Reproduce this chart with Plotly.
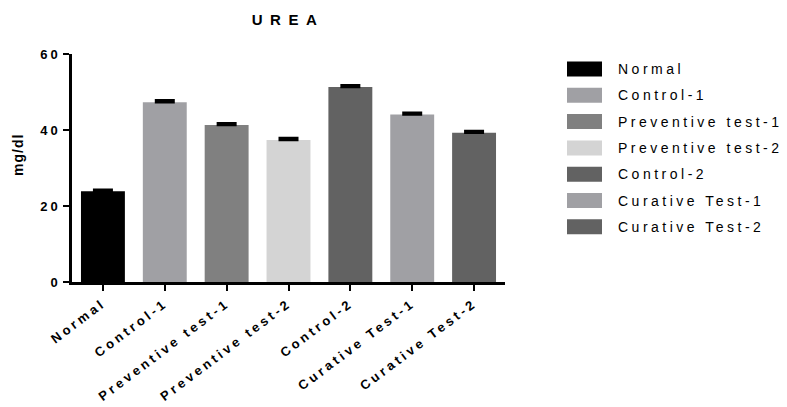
import plotly.graph_objects as go

categories = ["Normal", "Control-1", "Preventive test-1", "Preventive test-2",
              "Control-2", "Curative Test-1", "Curative Test-2"]
means = [23.9, 47.3, 41.3, 37.4, 51.3, 44.1, 39.3]
errors_up = [0.4, 0.5, 0.5, 0.5, 0.5, 0.45, 0.45]
errors_down = [0, 0, 0, 0, 0, 0, 0]
colors = ["#000000", "#A0A0A4", "#808080", "#D4D4D4", "#626262", "#A0A0A4", "#626262"]
y_ticks = [0, 20, 40, 60]
title_text = "UREA"
y_label = "mg/dl"

W, H = 787, 407
L, R, T, B = 72, 282, 54, 125
pw, ph = W - L - R, H - T - B


def px2x(px):
    return (px - L) / pw


def py2y(py):
    return (H - B - py) / ph


fig = go.Figure()
fig.add_trace(go.Bar(
    x=categories, y=means,
    marker=dict(color=colors, line=dict(width=0)),
    width=0.71,
    error_y=dict(type="data", array=errors_up, arrayminus=errors_down, symmetric=False,
                 visible=True, color="#000000", thickness=2.5, width=10),
    showlegend=False,
))

FONT = "Liberation Sans, Arial, sans-serif"

annotations = [dict(
    text='<b><span style="letter-spacing:1px">' + y_label + '</span></b>',
    x=px2x(18), y=py2y(155), xref="paper", yref="paper",
    textangle=-90, showarrow=False, xanchor="center", yanchor="middle",
    font=dict(family=FONT, size=14, color="#000000"),
)]
shapes = []
row0, step = 69, 26.3
for i, (cat, col) in enumerate(zip(categories, colors)):
    cy = row0 + i * step
    shapes.append(dict(type="rect", xref="paper", yref="paper",
                       x0=px2x(567), x1=px2x(602), y0=py2y(cy + 7.5), y1=py2y(cy - 7.5),
                       fillcolor=col, line=dict(width=0)))
    annotations.append(dict(
        text='<span style="letter-spacing:3.5px">' + cat + '</span>',
        x=px2x(616), y=py2y(cy), xref="paper", yref="paper",
        showarrow=False, xanchor="left", yanchor="middle",
        font=dict(family=FONT, size=14, color="#000000"),
    ))

fig.update_layout(
    width=W, height=H,
    margin=dict(l=L, r=R, t=T, b=B),
    plot_bgcolor="white", paper_bgcolor="white",
    title=dict(text="<b>" + title_text + "</b>", x=px2x(288), xref="paper", xanchor="center",
               y=1 - 20 / H, yref="container", yanchor="middle",
               font=dict(family=FONT, size=15, color="#000000")),
    xaxis=dict(range=[-0.5, 6.5], showline=True, linecolor="#000000", linewidth=2.5,
               ticks="outside", ticklen=6, tickwidth=2, tickcolor="#000000",
               tickangle=-37, showgrid=False, zeroline=False,
               tickfont=dict(family=FONT, size=13, color="#000000", weight="bold")),
    yaxis=dict(range=[0, 60], tickvals=y_ticks, showline=True, linecolor="#000000",
               linewidth=2.5, ticks="outside", ticklen=6, tickwidth=2, tickcolor="#000000",
               showgrid=False, zeroline=False,
               tickfont=dict(family=FONT, size=13, color="#000000", weight="bold")),
    shapes=shapes,
    annotations=annotations,
    bargap=0.29,
)

post = """
document.querySelectorAll('.xtick text').forEach(function(e){e.style.letterSpacing='3.3px';});
document.querySelectorAll('.ytick text').forEach(function(e){e.style.letterSpacing='3px';});
document.querySelectorAll('.gtitle').forEach(function(e){e.style.letterSpacing='7.5px';});
"""
fig.write_html("out.html", post_script=post)
